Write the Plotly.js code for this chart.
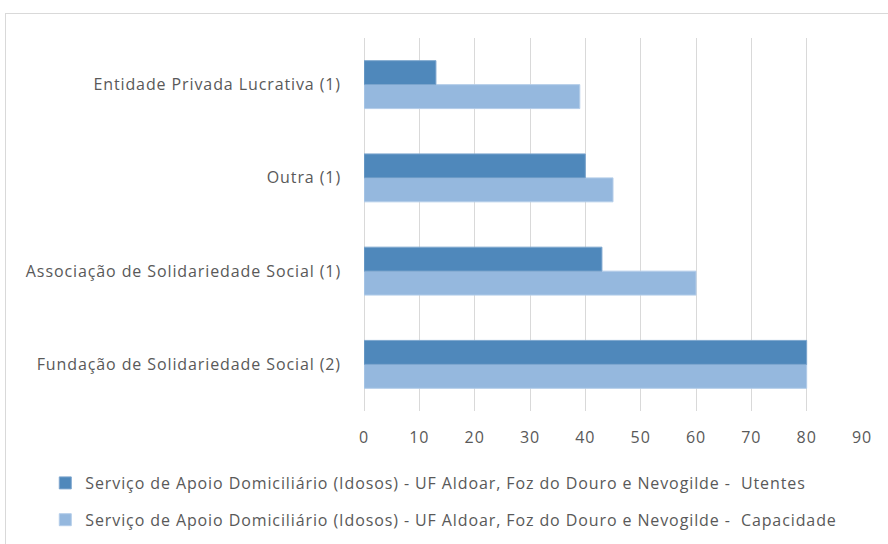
<!DOCTYPE html>
<html>
<head>
<meta charset="utf-8">
<script src="https://cdn.plot.ly/plotly-3.0.1.min.js"></script>
<style>
  html, body { margin: 0; padding: 0; background: #fff; }
  #wrap { position: relative; width: 888px; height: 544px; overflow: hidden; }
  #chart { width: 888px; height: 544px; }
  svg text { letter-spacing: 0.9px; }
  #frame { position: absolute; left: 5px; top: 13px; width: 900px; height: 600px; border: 1px solid #d9d9d9; pointer-events: none; }
</style>
</head>
<body>
<div id="wrap">
  <div id="chart"></div>
  <div id="frame"></div>
</div>
<script>
const categories = [
  "Fundação de Solidariedade Social (2)",
  "Associação de Solidariedade Social (1)",
  "Outra (1)",
  "Entidade Privada Lucrativa (1)"
];
const utentes = [80, 43, 40, 13];
const capacidade = [80, 60, 45, 39];
const seriesNames = [
  "Serviço de Apoio Domiciliário (Idosos) - UF Aldoar, Foz do Douro e Nevogilde -  Utentes",
  "Serviço de Apoio Domiciliário (Idosos) - UF Aldoar, Foz do Douro e Nevogilde -  Capacidade"
];
const tickVals = [0, 10, 20, 30, 40, 50, 60, 70, 80, 90];

const font = { family: "Open Sans, sans-serif", size: 16, color: "#595959" };

const traces = [
  {
    type: "bar", orientation: "h", name: seriesNames[1],
    y: categories, x: capacidade, legendgroup: "b", legendrank: 2,
    marker: { color: "#95B8DE", line: { color: "#B4CDE9", width: 1 } },
    hoverinfo: "x+y"
  },
  {
    type: "bar", orientation: "h", name: seriesNames[0],
    y: categories, x: utentes, legendgroup: "a", legendrank: 1,
    marker: { color: "#4F88BB", line: { color: "#7DA6CE", width: 1 } },
    hoverinfo: "x+y"
  }
];

const layout = {
  width: 888, height: 544,
  margin: { l: 364, r: 26, t: 38, b: 133 },
  paper_bgcolor: "#fff", plot_bgcolor: "#fff",
  font: font,
  barmode: "group",
  bargap: 0.486,
  bargroupgap: 0,
  xaxis: {
    range: [0, 90], tickvals: tickVals, ticktext: tickVals.map(String),
    showgrid: true, gridcolor: "#d9d9d9", gridwidth: 1,
    zeroline: true, zerolinecolor: "#d9d9d9", zerolinewidth: 1,
    showline: false, ticks: "", ticklabelstandoff: 15,
    tickfont: font, fixedrange: true, automargin: false
  },
  yaxis: {
    type: "category", categoryorder: "array", categoryarray: categories,
    range: [-0.5, 3.5],
    showgrid: false, zeroline: false, showline: false, ticks: "",
    ticklabelstandoff: 22, tickfont: font, fixedrange: true, automargin: false
  },
  showlegend: true,
  legend: {
    orientation: "v", traceorder: "grouped", tracegroupgap: 13,
    xref: "paper", x: -0.64, xanchor: "left",
    yref: "container", y: 0.1434, yanchor: "top",
    font: font, itemwidth: 30, bgcolor: "rgba(0,0,0,0)"
  }
};

Plotly.newPlot("chart", traces, layout, { displayModeBar: false, staticPlot: true });
</script>
</body>
</html>
